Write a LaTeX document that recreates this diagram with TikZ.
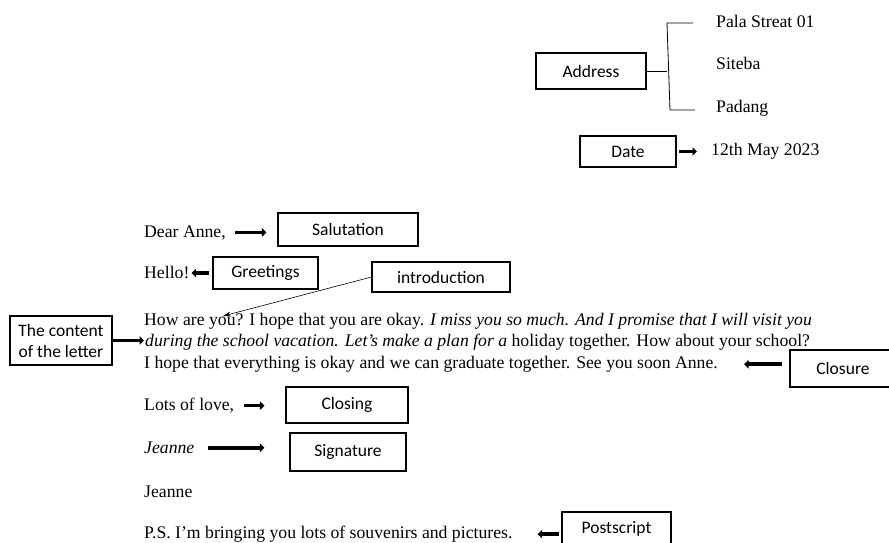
\documentclass[tikz,border=0pt]{standalone}
\usepackage{fontspec}
\setmainfont{Liberation Serif}
\newfontfamily\boxfont{Carlito}
\usetikzlibrary{arrows.meta}
\begin{document}
\begin{tikzpicture}[x=1pt, y=-1pt,
  tag/.style={draw, line width=1.1pt, inner sep=0pt, align=center,
    font=\boxfont\fontsize{17.5}{21}\selectfont},
  txt/.style={anchor=base west, inner sep=0pt, font=\fontsize{17.7}{20}\selectfont},
  fat/.style={line width=3.6pt, -{Triangle[length=4.5pt, width=8.5pt]}},
  slim/.style={line width=0.6pt, -{Stealth[length=8pt, width=5pt]}}]
\useasboundingbox (0,0) rectangle (889,543);
\clip (0,0) rectangle (889,543);
\node[tag, minimum width=110pt, minimum height=36pt] (address) at (591,71) {Address};
\node[tag, minimum width=96pt, minimum height=31pt] (date) at (628,151.5) {Date};
\node[tag, minimum width=140pt, minimum height=33pt] (salut) at (348,229.5) {Salutation};
\node[tag, minimum width=105pt, minimum height=32pt] (greet) at (265.5,273) {Greetings};
\node[tag, minimum width=138pt, minimum height=30pt] (intro) at (441,277) {introduction};
\node[tag, minimum width=102pt, minimum height=49pt] (content) at (61,340.5) {The content\\of the letter};
\node[tag, minimum width=106pt, minimum height=37pt] (closure) at (843,368.5) {Closure};
\node[tag, minimum width=122pt, minimum height=36pt] (closing) at (347,405) {Closing};
\node[tag, minimum width=116pt, minimum height=38pt] (sign) at (348,452) {Signature};
\node[tag, minimum width=109pt, minimum height=34pt] (psbox) at (616.5,529) {Postscript};
\node[txt] (street) at (716,27.5) {Pala Streat 01};
\node[txt] (siteba) at (716,69.5) {Siteba};
\node[txt] (padang) at (716,112) {Padang};
\node[txt] (datetxt) at (711,155.5) {12th May 2023};
\node[txt] (dear) at (144,237) {Dear Anne,};
\node[txt] (hello) at (144,278.5) {Hello!};
\node[txt] (lineone) at (144,325.5) {How are you? I hope that you are okay. \textit{I miss you so much. And I promise that I will visit you}};
\node[txt] (linetwo) at (145,346.5) {\textit{during the school vacation. Let's make a plan for a} holiday together. How about your school?};
\node[txt] (linethree) at (144,368.5) {I hope that everything is okay and we can graduate together. See you soon Anne.};
\node[txt] (love) at (144,410.5) {Lots of love,};
\node[txt] (jsign) at (144,453.5) {\textit{Jeanne}};
\node[txt] (jname) at (144,497.5) {Jeanne};
\node[txt] (ps) at (144,538.5) {P.S. I'm bringing you lots of souvenirs and pictures.};
\coordinate (top) at (667,23);
\coordinate (bottom) at (670,110);
\coordinate (you) at (223,316);
\draw[line width=0.8pt] (address.east) -- (address.east -| top);
\draw[line width=0.8pt] ([xshift=26pt]top) -- (top) -- (bottom) -- ([xshift=25pt]bottom);
\draw[fat, shorten <=2pt, shorten >=14pt] (date.east) -- (date.east -| datetxt.west);
\draw[fat, shorten <=9pt, shorten >=11pt] (dear.east) -- (dear.east -| salut.west);
\draw[fat, shorten <=3pt, shorten >=2pt] (greet.west) -- (greet.west -| hello.east);
\draw[slim] (intro.west) -- (you);
\draw[fat, shorten >=1pt] (content.east) -- (content.east -| linetwo.west);
\draw[fat, shorten <=7pt, shorten >=26pt] (closure.west |- linethree.east) -- (linethree.east);
\draw[fat, shorten <=10pt, shorten >=21pt] (love.east) -- (love.east -| closing.west);
\draw[fat, shorten <=13pt, shorten >=25pt] (jsign.east) -- (jsign.east -| sign.west);
\draw[fat, shorten <=2pt, shorten >=25pt] (psbox.west |- ps.east) -- (ps.east);
\end{tikzpicture}
\end{document}
